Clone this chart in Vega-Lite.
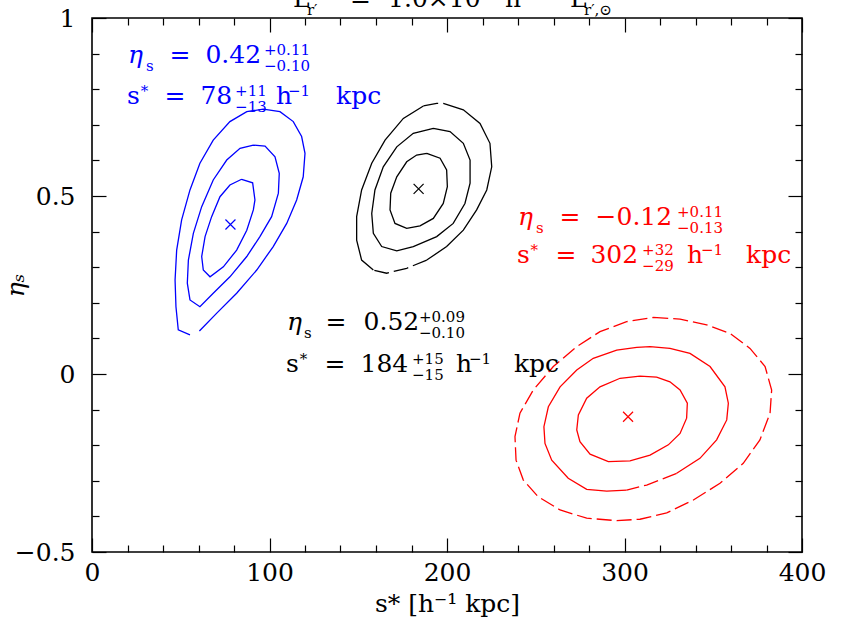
{
  "$schema": "https://vega.github.io/schema/vega-lite/v6.json",
  "width": 710,
  "height": 534,
  "padding": {"left": 92, "top": 18, "right": 45, "bottom": 69},
  "autosize": {"type": "none"},
  "background": "white",
  "config": {
    "view": {"stroke": "#000000", "strokeWidth": 1.6},
    "axis": {"grid": false, "domain": false, "tickColor": "#000000", "tickWidth": 1.2, "labelFont": "DejaVu Serif", "labelFontSize": 25, "labelColor": "#000000", "titleFont": "DejaVu Serif", "titleFontSize": 25, "titleFontWeight": "normal", "titleColor": "#000000", "labelFlush": false, "labelOverlap": false},
    "text": {"font": "DejaVu Serif"}
  },
  "datasets": {
    "centers": [
      {"series": "s78", "x": 78, "y": 0.42},
      {"series": "s184", "x": 184, "y": 0.52},
      {"series": "s302", "x": 302, "y": -0.12}
    ],
    "contours_solid": [
      {"series": "s78", "c": "b1", "x": 84.3, "y": 0.547},
      {"series": "s78", "c": "b1", "x": 90.5, "y": 0.537},
      {"series": "s78", "c": "b1", "x": 91.8, "y": 0.489},
      {"series": "s78", "c": "b1", "x": 90.9, "y": 0.461},
      {"series": "s78", "c": "b1", "x": 87.2, "y": 0.404},
      {"series": "s78", "c": "b1", "x": 81.5, "y": 0.348},
      {"series": "s78", "c": "b1", "x": 74.0, "y": 0.301},
      {"series": "s78", "c": "b1", "x": 66.5, "y": 0.273},
      {"series": "s78", "c": "b1", "x": 62.7, "y": 0.292},
      {"series": "s78", "c": "b1", "x": 61.8, "y": 0.330},
      {"series": "s78", "c": "b1", "x": 63.7, "y": 0.386},
      {"series": "s78", "c": "b1", "x": 67.4, "y": 0.442},
      {"series": "s78", "c": "b1", "x": 72.1, "y": 0.498},
      {"series": "s78", "c": "b1", "x": 77.7, "y": 0.531},
      {"series": "s78", "c": "b1", "x": 84.3, "y": 0.547},
      {"series": "s78", "c": "b2", "x": 90.9, "y": 0.643},
      {"series": "s78", "c": "b2", "x": 97.5, "y": 0.640},
      {"series": "s78", "c": "b2", "x": 103.1, "y": 0.610},
      {"series": "s78", "c": "b2", "x": 105.5, "y": 0.564},
      {"series": "s78", "c": "b2", "x": 105.0, "y": 0.508},
      {"series": "s78", "c": "b2", "x": 101.2, "y": 0.442},
      {"series": "s78", "c": "b2", "x": 94.6, "y": 0.386},
      {"series": "s78", "c": "b2", "x": 87.2, "y": 0.330},
      {"series": "s78", "c": "b2", "x": 77.7, "y": 0.273},
      {"series": "s78", "c": "b2", "x": 68.3, "y": 0.227},
      {"series": "s78", "c": "b2", "x": 60.8, "y": 0.189},
      {"series": "s78", "c": "b2", "x": 55.2, "y": 0.208},
      {"series": "s78", "c": "b2", "x": 53.7, "y": 0.255},
      {"series": "s78", "c": "b2", "x": 54.3, "y": 0.320},
      {"series": "s78", "c": "b2", "x": 57.1, "y": 0.395},
      {"series": "s78", "c": "b2", "x": 61.8, "y": 0.470},
      {"series": "s78", "c": "b2", "x": 68.3, "y": 0.545},
      {"series": "s78", "c": "b2", "x": 75.9, "y": 0.601},
      {"series": "s78", "c": "b2", "x": 83.4, "y": 0.634},
      {"series": "s78", "c": "b2", "x": 90.9, "y": 0.643},
      {"series": "s78", "c": "b3", "x": 55.2, "y": 0.110},
      {"series": "s78", "c": "b3", "x": 48.6, "y": 0.124},
      {"series": "s78", "c": "b3", "x": 47.3, "y": 0.189},
      {"series": "s78", "c": "b3", "x": 46.8, "y": 0.264},
      {"series": "s78", "c": "b3", "x": 47.7, "y": 0.348},
      {"series": "s78", "c": "b3", "x": 50.5, "y": 0.433},
      {"series": "s78", "c": "b3", "x": 55.2, "y": 0.517},
      {"series": "s78", "c": "b3", "x": 60.8, "y": 0.592},
      {"series": "s78", "c": "b3", "x": 68.3, "y": 0.657},
      {"series": "s78", "c": "b3", "x": 77.7, "y": 0.709},
      {"series": "s78", "c": "b3", "x": 87.2, "y": 0.737},
      {"series": "s78", "c": "b3", "x": 96.5, "y": 0.744},
      {"series": "s78", "c": "b3", "x": 105.9, "y": 0.737},
      {"series": "s78", "c": "b3", "x": 113.4, "y": 0.709},
      {"series": "s78", "c": "b3", "x": 118.1, "y": 0.667},
      {"series": "s78", "c": "b3", "x": 120.0, "y": 0.620},
      {"series": "s78", "c": "b3", "x": 119.0, "y": 0.554},
      {"series": "s78", "c": "b3", "x": 115.3, "y": 0.489},
      {"series": "s78", "c": "b3", "x": 109.7, "y": 0.423},
      {"series": "s78", "c": "b3", "x": 102.1, "y": 0.358},
      {"series": "s78", "c": "b3", "x": 92.8, "y": 0.292},
      {"series": "s78", "c": "b3", "x": 81.5, "y": 0.227},
      {"series": "s78", "c": "b3", "x": 70.3, "y": 0.171},
      {"series": "s78", "c": "b3", "x": 60.5, "y": 0.121},
      {"series": "s184", "c": "k1", "x": 188.6, "y": 0.620},
      {"series": "s184", "c": "k1", "x": 196.1, "y": 0.606},
      {"series": "s184", "c": "k1", "x": 199.8, "y": 0.573},
      {"series": "s184", "c": "k1", "x": 200.2, "y": 0.526},
      {"series": "s184", "c": "k1", "x": 197.9, "y": 0.479},
      {"series": "s184", "c": "k1", "x": 192.3, "y": 0.437},
      {"series": "s184", "c": "k1", "x": 184.8, "y": 0.416},
      {"series": "s184", "c": "k1", "x": 177.3, "y": 0.409},
      {"series": "s184", "c": "k1", "x": 170.7, "y": 0.423},
      {"series": "s184", "c": "k1", "x": 167.9, "y": 0.461},
      {"series": "s184", "c": "k1", "x": 168.3, "y": 0.508},
      {"series": "s184", "c": "k1", "x": 171.7, "y": 0.554},
      {"series": "s184", "c": "k1", "x": 177.3, "y": 0.596},
      {"series": "s184", "c": "k1", "x": 182.9, "y": 0.615},
      {"series": "s184", "c": "k1", "x": 188.6, "y": 0.620},
      {"series": "s184", "c": "k2", "x": 192.3, "y": 0.690},
      {"series": "s184", "c": "k2", "x": 201.7, "y": 0.681},
      {"series": "s184", "c": "k2", "x": 209.2, "y": 0.648},
      {"series": "s184", "c": "k2", "x": 213.0, "y": 0.601},
      {"series": "s184", "c": "k2", "x": 213.0, "y": 0.536},
      {"series": "s184", "c": "k2", "x": 210.1, "y": 0.479},
      {"series": "s184", "c": "k2", "x": 203.5, "y": 0.423},
      {"series": "s184", "c": "k2", "x": 194.2, "y": 0.386},
      {"series": "s184", "c": "k2", "x": 181.0, "y": 0.358},
      {"series": "s184", "c": "k2", "x": 171.7, "y": 0.346},
      {"series": "s184", "c": "k2", "x": 163.2, "y": 0.358},
      {"series": "s184", "c": "k2", "x": 158.5, "y": 0.395},
      {"series": "s184", "c": "k2", "x": 157.6, "y": 0.451},
      {"series": "s184", "c": "k2", "x": 159.4, "y": 0.517},
      {"series": "s184", "c": "k2", "x": 164.1, "y": 0.582},
      {"series": "s184", "c": "k2", "x": 171.7, "y": 0.638},
      {"series": "s184", "c": "k2", "x": 181.0, "y": 0.676},
      {"series": "s184", "c": "k2", "x": 192.3, "y": 0.690},
      {"series": "s184", "c": "k3a", "x": 197.9, "y": 0.760},
      {"series": "s184", "c": "k3a", "x": 209.2, "y": 0.742},
      {"series": "s184", "c": "k3a", "x": 218.6, "y": 0.704},
      {"series": "s184", "c": "k3a", "x": 224.2, "y": 0.648},
      {"series": "s184", "c": "k3a", "x": 225.2, "y": 0.582},
      {"series": "s184", "c": "k3a", "x": 222.4, "y": 0.517},
      {"series": "s184", "c": "k3a", "x": 216.7, "y": 0.461},
      {"series": "s184", "c": "k3a", "x": 209.2, "y": 0.404},
      {"series": "s184", "c": "k3a", "x": 199.8, "y": 0.358},
      {"series": "s184", "c": "k3a", "x": 188.6, "y": 0.320},
      {"series": "s184", "c": "k3b", "x": 158.5, "y": 0.292},
      {"series": "s184", "c": "k3b", "x": 151.9, "y": 0.320},
      {"series": "s184", "c": "k3b", "x": 149.1, "y": 0.376},
      {"series": "s184", "c": "k3b", "x": 149.1, "y": 0.442},
      {"series": "s184", "c": "k3b", "x": 151.9, "y": 0.517},
      {"series": "s184", "c": "k3b", "x": 157.6, "y": 0.592},
      {"series": "s184", "c": "k3b", "x": 165.1, "y": 0.657},
      {"series": "s184", "c": "k3b", "x": 175.4, "y": 0.718},
      {"series": "s184", "c": "k3b", "x": 186.7, "y": 0.753},
      {"series": "s302", "c": "r1", "x": 308.7, "y": -0.006},
      {"series": "s302", "c": "r1", "x": 318.1, "y": -0.009},
      {"series": "s302", "c": "r1", "x": 325.6, "y": -0.022},
      {"series": "s302", "c": "r1", "x": 331.3, "y": -0.045},
      {"series": "s302", "c": "r1", "x": 335.4, "y": -0.082},
      {"series": "s302", "c": "r1", "x": 335.0, "y": -0.124},
      {"series": "s302", "c": "r1", "x": 331.3, "y": -0.167},
      {"series": "s302", "c": "r1", "x": 324.7, "y": -0.199},
      {"series": "s302", "c": "r1", "x": 314.4, "y": -0.228},
      {"series": "s302", "c": "r1", "x": 303.1, "y": -0.244},
      {"series": "s302", "c": "r1", "x": 290.9, "y": -0.246},
      {"series": "s302", "c": "r1", "x": 280.6, "y": -0.225},
      {"series": "s302", "c": "r1", "x": 274.9, "y": -0.190},
      {"series": "s302", "c": "r1", "x": 273.1, "y": -0.157},
      {"series": "s302", "c": "r1", "x": 274.0, "y": -0.115},
      {"series": "s302", "c": "r1", "x": 278.7, "y": -0.068},
      {"series": "s302", "c": "r1", "x": 286.2, "y": -0.036},
      {"series": "s302", "c": "r1", "x": 297.5, "y": -0.012},
      {"series": "s302", "c": "r1", "x": 308.7, "y": -0.006},
      {"series": "s302", "c": "r2a", "x": 301.2, "y": -0.326},
      {"series": "s302", "c": "r2a", "x": 290.0, "y": -0.329},
      {"series": "s302", "c": "r2a", "x": 278.7, "y": -0.324},
      {"series": "s302", "c": "r2a", "x": 268.3, "y": -0.293},
      {"series": "s302", "c": "r2a", "x": 259.0, "y": -0.242},
      {"series": "s302", "c": "r2a", "x": 255.2, "y": -0.195},
      {"series": "s302", "c": "r2a", "x": 254.6, "y": -0.148},
      {"series": "s302", "c": "r2a", "x": 257.1, "y": -0.092},
      {"series": "s302", "c": "r2a", "x": 263.7, "y": -0.036},
      {"series": "s302", "c": "r2a", "x": 273.1, "y": 0.011},
      {"series": "s302", "c": "r2a", "x": 282.4, "y": 0.044},
      {"series": "s302", "c": "r2a", "x": 295.6, "y": 0.067},
      {"series": "s302", "c": "r2a", "x": 306.9, "y": 0.075},
      {"series": "s302", "c": "r2a", "x": 314.4, "y": 0.077},
      {"series": "s302", "c": "r2a", "x": 325.6, "y": 0.072},
      {"series": "s302", "c": "r2a", "x": 336.9, "y": 0.058},
      {"series": "s302", "c": "r2a", "x": 348.2, "y": 0.021},
      {"series": "s302", "c": "r2a", "x": 356.6, "y": -0.036},
      {"series": "s302", "c": "r2a", "x": 358.5, "y": -0.082},
      {"series": "s302", "c": "r2a", "x": 357.6, "y": -0.129},
      {"series": "s302", "c": "r2a", "x": 351.9, "y": -0.185},
      {"series": "s302", "c": "r2a", "x": 342.5, "y": -0.237},
      {"series": "s302", "c": "r2a", "x": 329.4, "y": -0.279}
    ],
    "contours_dashed": [
      {"series": "s184", "c": "k3c", "x": 188.6, "y": 0.320},
      {"series": "s184", "c": "k3c", "x": 177.3, "y": 0.297},
      {"series": "s184", "c": "k3c", "x": 166.0, "y": 0.283},
      {"series": "s184", "c": "k3c", "x": 158.5, "y": 0.292},
      {"series": "s184", "c": "k3d", "x": 186.7, "y": 0.753},
      {"series": "s184", "c": "k3d", "x": 194.2, "y": 0.760},
      {"series": "s184", "c": "k3d", "x": 197.9, "y": 0.760},
      {"series": "s302", "c": "r2b", "x": 329.4, "y": -0.279},
      {"series": "s302", "c": "r2b", "x": 312.5, "y": -0.312},
      {"series": "s302", "c": "r2b", "x": 301.2, "y": -0.326},
      {"series": "s302", "c": "r3", "x": 316.2, "y": 0.159},
      {"series": "s302", "c": "r3", "x": 331.3, "y": 0.154},
      {"series": "s302", "c": "r3", "x": 346.3, "y": 0.138},
      {"series": "s302", "c": "r3", "x": 359.4, "y": 0.114},
      {"series": "s302", "c": "r3", "x": 370.7, "y": 0.072},
      {"series": "s302", "c": "r3", "x": 379.2, "y": 0.021},
      {"series": "s302", "c": "r3", "x": 382.9, "y": -0.045},
      {"series": "s302", "c": "r3", "x": 382.0, "y": -0.110},
      {"series": "s302", "c": "r3", "x": 376.3, "y": -0.185},
      {"series": "s302", "c": "r3", "x": 366.9, "y": -0.251},
      {"series": "s302", "c": "r3", "x": 353.8, "y": -0.307},
      {"series": "s302", "c": "r3", "x": 338.8, "y": -0.354},
      {"series": "s302", "c": "r3", "x": 323.8, "y": -0.390},
      {"series": "s302", "c": "r3", "x": 308.7, "y": -0.408},
      {"series": "s302", "c": "r3", "x": 295.6, "y": -0.412},
      {"series": "s302", "c": "r3", "x": 278.7, "y": -0.405},
      {"series": "s302", "c": "r3", "x": 263.7, "y": -0.382},
      {"series": "s302", "c": "r3", "x": 251.4, "y": -0.345},
      {"series": "s302", "c": "r3", "x": 243.0, "y": -0.298},
      {"series": "s302", "c": "r3", "x": 238.9, "y": -0.242},
      {"series": "s302", "c": "r3", "x": 238.3, "y": -0.176},
      {"series": "s302", "c": "r3", "x": 241.1, "y": -0.110},
      {"series": "s302", "c": "r3", "x": 248.6, "y": -0.045},
      {"series": "s302", "c": "r3", "x": 259.9, "y": 0.021},
      {"series": "s302", "c": "r3", "x": 273.1, "y": 0.077},
      {"series": "s302", "c": "r3", "x": 286.2, "y": 0.119},
      {"series": "s302", "c": "r3", "x": 301.2, "y": 0.147},
      {"series": "s302", "c": "r3", "x": 316.2, "y": 0.159}
    ],
    "text_main": [
      {"series": "s78", "label": "=", "x": 43.7, "y": 0.874},
      {"series": "s78", "label": "0.42", "x": 63.9, "y": 0.874},
      {"series": "s78", "label": "s", "x": 19.7, "y": 0.758},
      {"series": "s78", "label": "=", "x": 40.8, "y": 0.758},
      {"series": "s78", "label": "78", "x": 61.1, "y": 0.758},
      {"series": "s78", "label": "h", "x": 103.7, "y": 0.758},
      {"series": "s78", "label": "kpc", "x": 137.5, "y": 0.758},
      {"series": "s184", "label": "=", "x": 131.5, "y": 0.124},
      {"series": "s184", "label": "0.52", "x": 153.0, "y": 0.124},
      {"series": "s184", "label": "s", "x": 109.3, "y": 0.006},
      {"series": "s184", "label": "=", "x": 131.0, "y": 0.006},
      {"series": "s184", "label": "184", "x": 151.3, "y": 0.006},
      {"series": "s184", "label": "h", "x": 205.1, "y": 0.006},
      {"series": "s184", "label": "kpc", "x": 237.7, "y": 0.006},
      {"series": "s302", "label": "=", "x": 263.4, "y": 0.419},
      {"series": "s302", "label": "−0.12", "x": 283.7, "y": 0.419},
      {"series": "s302", "label": "s", "x": 239.4, "y": 0.312},
      {"series": "s302", "label": "=", "x": 261.1, "y": 0.312},
      {"series": "s302", "label": "302", "x": 280.8, "y": 0.312},
      {"series": "s302", "label": "h", "x": 335.2, "y": 0.312},
      {"series": "s302", "label": "kpc", "x": 368.5, "y": 0.312},
      {"series": "title", "label": "L", "x": 113.2, "y": 1.03},
      {"series": "title", "label": "=", "x": 145.4, "y": 1.03},
      {"series": "title", "label": "1.0×10", "x": 166.8, "y": 1.03},
      {"series": "title", "label": "h", "x": 232.7, "y": 1.03},
      {"series": "title", "label": "L", "x": 269.3, "y": 1.03}
    ],
    "text_eta": [
      {"series": "s78", "label": "η", "x": 20.3, "y": 0.874},
      {"series": "s184", "label": "η", "x": 109.9, "y": 0.124},
      {"series": "s302", "label": "η", "x": 240.0, "y": 0.419}
    ],
    "text_sup": [
      {"series": "s78", "label": "+0.11", "x": 96.9, "y": 0.874},
      {"series": "s78", "label": "*", "x": 27.4, "y": 0.758},
      {"series": "s78", "label": "+11", "x": 80.6, "y": 0.758},
      {"series": "s78", "label": "−1", "x": 110.4, "y": 0.758},
      {"series": "s184", "label": "+0.09", "x": 184.2, "y": 0.124},
      {"series": "s184", "label": "*", "x": 117.0, "y": 0.006},
      {"series": "s184", "label": "+15", "x": 180.3, "y": 0.006},
      {"series": "s184", "label": "−1", "x": 212.4, "y": 0.006},
      {"series": "s302", "label": "+0.11", "x": 329.6, "y": 0.419},
      {"series": "s302", "label": "*", "x": 247.1, "y": 0.312},
      {"series": "s302", "label": "+32", "x": 309.9, "y": 0.312},
      {"series": "s302", "label": "−1", "x": 343.1, "y": 0.312},
      {"series": "title", "label": "10", "x": 211.3, "y": 1.03},
      {"series": "title", "label": "−2", "x": 242.3, "y": 1.03}
    ],
    "text_sub": [
      {"series": "s78", "label": "s", "x": 30.4, "y": 0.874},
      {"series": "s78", "label": "−0.10", "x": 96.9, "y": 0.874},
      {"series": "s78", "label": "−13", "x": 80.6, "y": 0.758},
      {"series": "s184", "label": "s", "x": 119.4, "y": 0.124},
      {"series": "s184", "label": "−0.10", "x": 184.2, "y": 0.124},
      {"series": "s184", "label": "−15", "x": 180.3, "y": 0.006},
      {"series": "s302", "label": "s", "x": 250.1, "y": 0.419},
      {"series": "s302", "label": "−0.13", "x": 329.6, "y": 0.419},
      {"series": "s302", "label": "−29", "x": 309.9, "y": 0.312},
      {"series": "title", "label": "r′", "x": 121.1, "y": 1.03},
      {"series": "title", "label": "r′,⊙", "x": 277.2, "y": 1.03}
    ]
  },
  "encoding": {
    "x": {"field": "x", "type": "quantitative", "scale": {"domain": [0, 400], "nice": false, "zero": false}, "axis": null},
    "y": {"field": "y", "type": "quantitative", "scale": {"domain": [-0.5, 1], "nice": false, "zero": false}, "axis": null},
    "color": {"field": "series", "type": "nominal", "scale": {"domain": ["s78", "s184", "s302", "title"], "range": ["#0000ff", "#000000", "#ff0000", "#000000"]}, "legend": null}
  },
  "layer": [
    {
      "data": {"name": "centers"},
      "mark": {"type": "point", "opacity": 0},
      "encoding": {
        "x": {"field": "x", "type": "quantitative", "scale": {"domain": [0, 400], "nice": false, "zero": false},
          "axis": {"orient": "bottom", "values": [0, 100, 200, 300, 400], "format": "d", "tickSize": -14, "labelPadding": 22, "title": "s* [h⁻¹ kpc]", "titlePadding": 6}},
        "y": {"field": "y", "type": "quantitative", "scale": {"domain": [-0.5, 1], "nice": false, "zero": false},
          "axis": {"orient": "left", "values": [-0.5, 0, 0.5, 1], "format": "~g", "tickSize": -14, "labelPadding": 31, "title": "ηₛ", "titleFontStyle": "italic", "titlePadding": -14}}
      }
    },
    {
      "data": {"name": "centers"},
      "mark": {"type": "point", "opacity": 0},
      "encoding": {
        "x": {"field": "x", "type": "quantitative", "scale": {"domain": [0, 400], "nice": false, "zero": false},
          "axis": {"orient": "bottom", "values": [20, 40, 60, 80, 120, 140, 160, 180, 220, 240, 260, 280, 320, 340, 360, 380], "tickSize": -7, "labels": false, "title": null}},
        "y": {"field": "y", "type": "quantitative", "scale": {"domain": [-0.5, 1], "nice": false, "zero": false},
          "axis": {"orient": "left", "values": [-0.4, -0.3, -0.2, -0.1, 0.1, 0.2, 0.3, 0.4, 0.6, 0.7, 0.8, 0.9], "tickSize": -7, "labels": false, "title": null}}
      }
    },
    {
      "data": {"name": "centers"},
      "mark": {"type": "point", "opacity": 0},
      "encoding": {
        "x": {"field": "x", "type": "quantitative", "scale": {"domain": [0, 400], "nice": false, "zero": false},
          "axis": {"orient": "top", "values": [0, 100, 200, 300, 400], "tickSize": -14, "labels": false, "title": null}},
        "y": {"field": "y", "type": "quantitative", "scale": {"domain": [-0.5, 1], "nice": false, "zero": false},
          "axis": {"orient": "right", "values": [-0.5, 0, 0.5, 1], "tickSize": -14, "labels": false, "title": null}}
      }
    },
    {
      "data": {"name": "centers"},
      "mark": {"type": "point", "opacity": 0},
      "encoding": {
        "x": {"field": "x", "type": "quantitative", "scale": {"domain": [0, 400], "nice": false, "zero": false},
          "axis": {"orient": "top", "values": [20, 40, 60, 80, 120, 140, 160, 180, 220, 240, 260, 280, 320, 340, 360, 380], "tickSize": -7, "labels": false, "title": null}},
        "y": {"field": "y", "type": "quantitative", "scale": {"domain": [-0.5, 1], "nice": false, "zero": false},
          "axis": {"orient": "right", "values": [-0.4, -0.3, -0.2, -0.1, 0.1, 0.2, 0.3, 0.4, 0.6, 0.7, 0.8, 0.9], "tickSize": -7, "labels": false, "title": null}}
      }
    },
    {
      "data": {"name": "contours_solid"},
      "mark": {"type": "line", "strokeWidth": 1.3},
      "encoding": {"detail": {"field": "c"}, "order": {"value": null}}
    },
    {
      "data": {"name": "contours_dashed"},
      "mark": {"type": "line", "strokeWidth": 1.3, "strokeDash": [15, 5]},
      "encoding": {"detail": {"field": "c"}, "order": {"value": null}}
    },
    {
      "data": {"name": "centers"},
      "mark": {"type": "point", "shape": "M-1,-1L1,1M-1,1L1,-1", "filled": false, "size": 100, "strokeWidth": 1.2, "opacity": 1}
    },
    {
      "data": {"name": "text_main"},
      "mark": {"type": "text", "font": "DejaVu Serif", "fontSize": 25, "align": "left", "baseline": "alphabetic"},
      "encoding": {"text": {"field": "label"}}
    },
    {
      "data": {"name": "text_eta"},
      "mark": {"type": "text", "font": "DejaVu Serif", "fontSize": 25, "fontStyle": "italic", "align": "left", "baseline": "alphabetic"},
      "encoding": {"text": {"field": "label"}}
    },
    {
      "data": {"name": "text_sup"},
      "mark": {"type": "text", "font": "DejaVu Serif", "fontSize": 15, "align": "left", "baseline": "alphabetic", "dy": -8},
      "encoding": {"text": {"field": "label"}}
    },
    {
      "data": {"name": "text_sub"},
      "mark": {"type": "text", "font": "DejaVu Serif", "fontSize": 15, "align": "left", "baseline": "alphabetic", "dy": 8},
      "encoding": {"text": {"field": "label"}}
    }
  ],
  "resolve": {"axis": {"x": "independent", "y": "independent"}}
}
